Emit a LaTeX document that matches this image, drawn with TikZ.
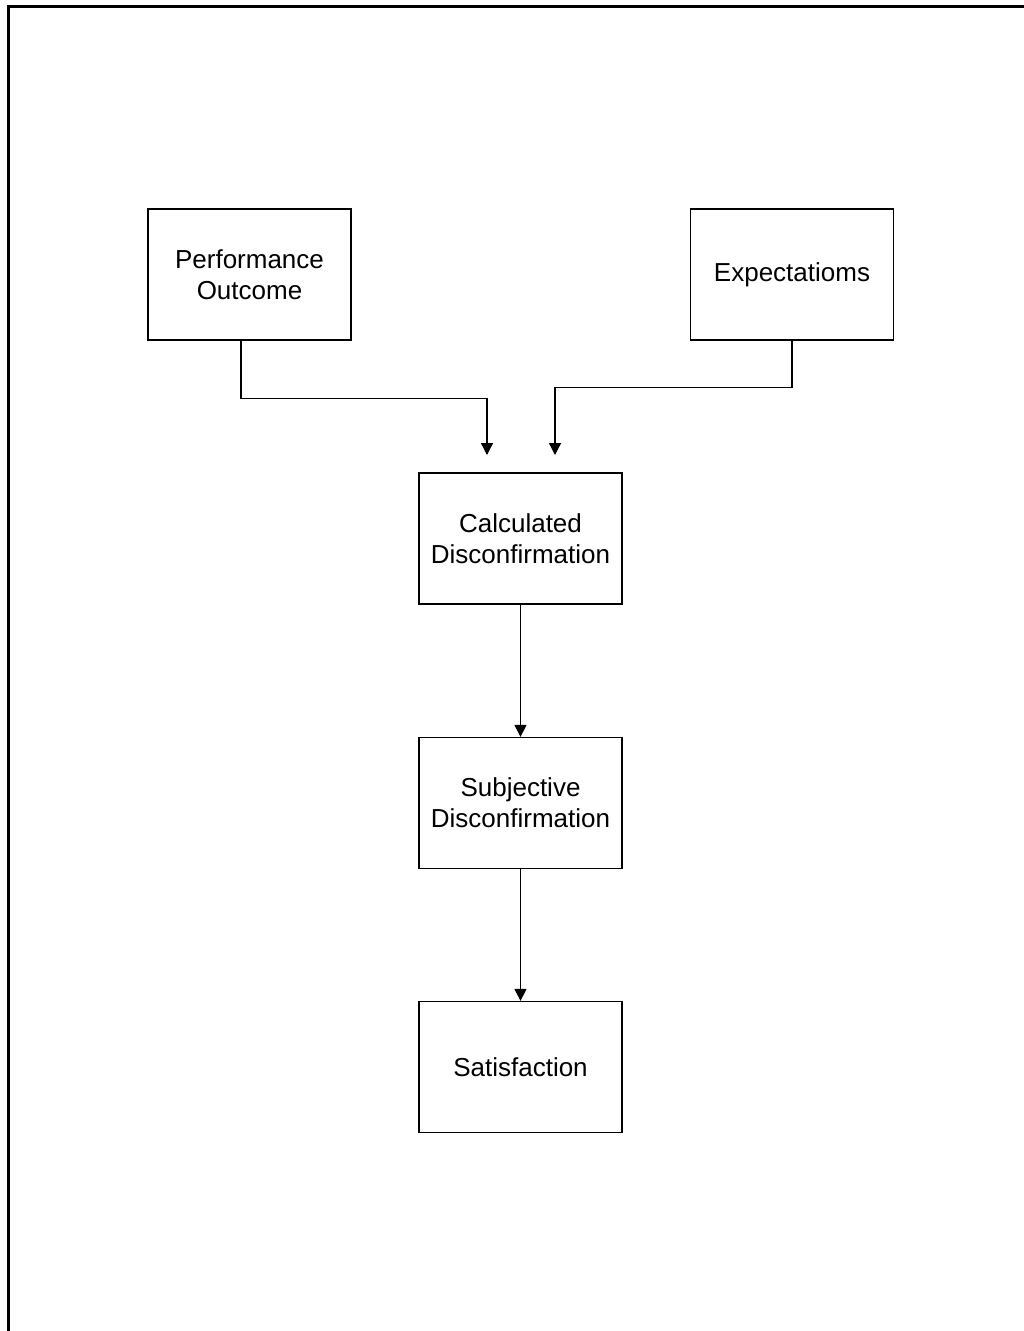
\documentclass[tikz,border=0pt]{standalone}
\usepackage{fontspec}
\setmainfont{Liberation Sans}
\usetikzlibrary{arrows.meta}
\begin{document}
\begin{tikzpicture}[x=1pt,y=-1pt,
  box/.style={draw, line width=1.3pt, minimum width=203pt, minimum height=131pt,
    align=center, inner sep=0pt, font=\fontsize{26}{31}\selectfont},
  link/.style={line width=1.3pt, -{Triangle[length=12pt,width=12pt]}},
  frame/.style={line width=3pt}]
\useasboundingbox (0,0) rectangle (1024,1331);
\fill[white] (0,0) rectangle (1024,1331);
% outer frame running off the right and bottom edges
\draw[frame] (8.5,1340) -- (8.5,6.5) -- (1040,6.5);

\node[box] (po)  at (249.5,274.5) {Performance\\Outcome};
\node[box] (ex)  at (792,274.5)   {Expectatioms};
\node[box] (cd)  at (520.5,538.5) {Calculated\\Disconfirmation};
\node[box] (sd)  at (520.5,803)   {Subjective\\Disconfirmation};
\node[box] (sat) at (520.5,1067)  {Satisfaction};

\coordinate (poend) at (487,455);
\coordinate (exend) at (555,455);

\draw[link] (po.south -| 241,0) |- (487,398.5) -- (poend);
\draw[link] (ex.south) |- (555,387.5) -- (exend);
\draw[link] (cd.south) -- (sd.north);
\draw[link] (sd.south) -- (sat.north);
\end{tikzpicture}
\end{document}
